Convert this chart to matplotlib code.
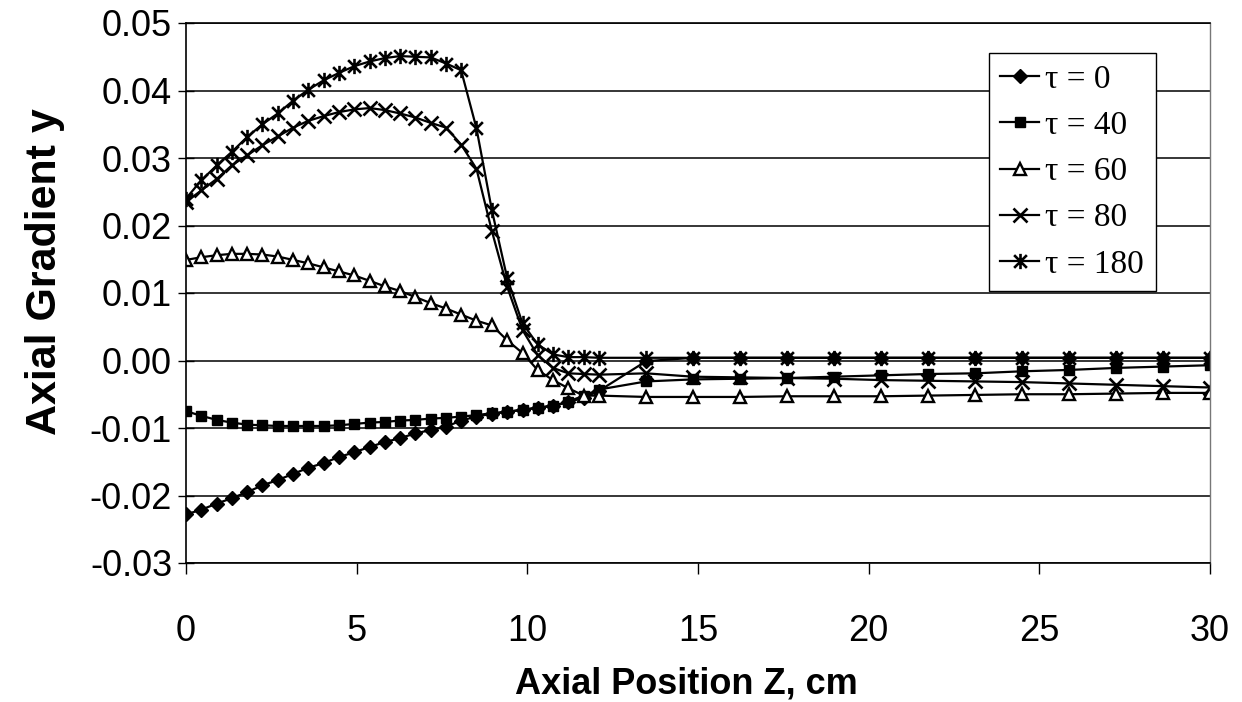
import matplotlib
matplotlib.use("Agg")
import matplotlib.pyplot as plt
from matplotlib.path import Path

# ---------------- data ----------------
z_cm = [0.00, 0.45, 0.90, 1.34, 1.79, 2.24, 2.69, 3.14, 3.58, 4.03, 4.48, 4.93,
        5.38, 5.82, 6.27, 6.72, 7.17, 7.62, 8.06, 8.51, 8.96, 9.41, 9.86, 10.30,
        10.75, 11.20, 11.65, 12.10, 13.48, 14.85, 16.23, 17.61, 18.98, 20.36,
        21.74, 23.12, 24.49, 25.87, 27.25, 28.62, 30.00]

tau0 = [-0.0228, -0.0221, -0.0212, -0.0204, -0.0195, -0.0185, -0.0177, -0.0168,
        -0.0159, -0.0152, -0.0143, -0.0136, -0.0128, -0.0121, -0.0115, -0.0108,
        -0.0103, -0.0098, -0.0089, -0.0083, -0.0079, -0.0076, -0.0073, -0.0070,
        -0.0067, -0.0062, -0.0055, -0.0045,
        -0.0001, 0.0004, 0.0004, 0.0004, 0.0004, 0.0004, 0.0004, 0.0004, 0.0004,
        0.0004, 0.0004, 0.0004, 0.0004]

tau40 = [-0.0075, -0.0082, -0.0088, -0.0092, -0.0095, -0.0096, -0.0097, -0.0097,
         -0.0097, -0.0097, -0.0096, -0.0094, -0.0092, -0.0091, -0.0089, -0.0088,
         -0.0086, -0.0085, -0.0083, -0.0081, -0.0078, -0.0076, -0.0073, -0.0070,
         -0.0067, -0.0061, -0.0052, -0.0043,
         -0.0031, -0.0028, -0.0027, -0.0026, -0.0024, -0.0022, -0.0020, -0.0019,
         -0.0016, -0.0014, -0.0011, -0.0009, -0.0007]

tau60 = [0.0149, 0.0153, 0.0156, 0.0158, 0.0158, 0.0157, 0.0154, 0.0149,
         0.0144, 0.0138, 0.0132, 0.0126, 0.0118, 0.0110, 0.0103, 0.0094,
         0.0085, 0.0077, 0.0068, 0.0059, 0.0052, 0.0030, 0.0011, -0.0014,
         -0.0029, -0.0041, -0.0052, -0.0052,
         -0.0054, -0.0054, -0.0054, -0.0053, -0.0053, -0.0053, -0.0052, -0.0051,
         -0.0050, -0.0050, -0.0049, -0.0048, -0.0048]

tau80 = [0.0235, 0.0252, 0.0269, 0.0289, 0.0304, 0.0319, 0.0332, 0.0345,
         0.0355, 0.0362, 0.0368, 0.0372, 0.0374, 0.0371, 0.0366, 0.0360,
         0.0352, 0.0345, 0.0320, 0.0284, 0.0192, 0.0109, 0.0045, 0.0008,
         -0.0011, -0.0019, -0.0020, -0.0021,
         -0.0019, -0.0024, -0.0025, -0.0026, -0.0027, -0.0029, -0.0030, -0.0031,
         -0.0032, -0.0034, -0.0036, -0.0038, -0.0040]

tau180 = [0.0240, 0.0267, 0.0289, 0.0309, 0.0331, 0.0350, 0.0366, 0.0385,
          0.0401, 0.0415, 0.0426, 0.0436, 0.0443, 0.0448, 0.0451, 0.0450,
          0.0449, 0.0440, 0.0430, 0.0344, 0.0223, 0.0122, 0.0055, 0.0024,
          0.0009, 0.0005, 0.0005, 0.0004,
          0.0004, 0.0004, 0.0004, 0.0004, 0.0004, 0.0004, 0.0004, 0.0004,
          0.0004, 0.0004, 0.0004, 0.0004, 0.0004]

series_labels = ["\u03c4 = 0", "\u03c4 = 40", "\u03c4 = 60", "\u03c4 = 80", "\u03c4 = 180"]
x_ticks = [0, 5, 10, 15, 20, 25, 30]
x_tick_labels = ["0", "5", "10", "15", "20", "25", "30"]
y_ticks = [-0.03, -0.02, -0.01, 0.00, 0.01, 0.02, 0.03, 0.04, 0.05]
y_tick_labels = ["-0.03", "-0.02", "-0.01", "0.00", "0.01", "0.02", "0.03", "0.04", "0.05"]

# ---------------- styling ----------------
star = Path([(-0.5, -0.5), (0.5, 0.5), (-0.5, 0.5), (0.5, -0.5), (0, -0.6), (0, 0.6)],
            [Path.MOVETO, Path.LINETO, Path.MOVETO, Path.LINETO, Path.MOVETO, Path.LINETO])

styles = [
    dict(marker="D", ms=7.0, mfc="black", mec="black", mew=1.0),
    dict(marker="s", ms=7.6, mfc="black", mec="black", mew=1.0),
    dict(marker="^", ms=8.8, mfc="white", mec="black", mew=1.7),
    dict(marker="x", ms=9.8, mfc="none", mec="black", mew=1.9),
    dict(marker=star, ms=11.0, mfc="none", mec="black", mew=1.9),
]

fig = plt.figure(figsize=(12.42, 7.02), dpi=100)
ax = fig.add_axes([186 / 1242, 1 - 563 / 702, 1024 / 1242, 540 / 702])

all_series = [tau0, tau40, tau60, tau80, tau180]
for ys, lab, st in zip(all_series, series_labels, styles):
    ax.plot(z_cm, ys, color="black", lw=1.6, label=lab, **st)

ax.set_xlim(0, 30)
ax.set_ylim(-0.03, 0.05)
ax.set_xticks(x_ticks)
ax.set_xticklabels(x_tick_labels)
ax.set_yticks(y_ticks)
ax.set_yticklabels(y_tick_labels)

ax.yaxis.grid(True, color="black", lw=1.1)
ax.set_axisbelow(True)

for s in ["left", "bottom", "top"]:
    ax.spines[s].set_color("black")
    ax.spines[s].set_linewidth(1.2)
ax.spines["right"].set_color("#777777")
ax.spines["right"].set_linewidth(1.0)
ax.spines["right"].set_linestyle((0, (1, 1)))

ax.tick_params(axis="y", direction="inout", length=12, width=1.0,
               labelsize=26, pad=4)
ax.tick_params(axis="x", direction="out", length=8, width=1.0,
               labelsize=26, pad=29)
for lab in ax.get_xticklabels() + ax.get_yticklabels():
    lab.set_fontfamily(["Liberation Sans", "DejaVu Sans"])

fig.text(45 / 1242, 1 - 272 / 702, "Axial Gradient y", rotation=90,
         ha="center", va="center", fontsize=31, fontweight="bold",
         family=["Liberation Sans", "DejaVu Sans"])
fig.text(686 / 1242, 1 - 684 / 702, "Axial Position Z, cm",
         ha="center", va="center", fontsize=26, fontweight="bold",
         family=["Liberation Sans", "DejaVu Sans"])

leg = ax.legend(loc="upper left", bbox_to_anchor=(0.784, 0.945), borderaxespad=0,
                prop=dict(family=["Liberation Serif", "DejaVu Serif"], size=24),
                borderpad=0.35, handlelength=1.15, handletextpad=0.2,
                labelspacing=0.47, fancybox=False, framealpha=1, edgecolor="black")
leg.get_frame().set_linewidth(1.0)

fig.savefig("out.png", dpi=100, facecolor="white")
